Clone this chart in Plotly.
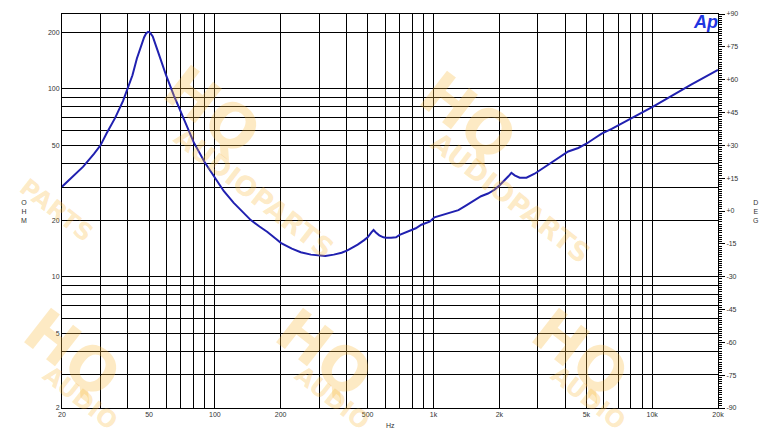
import plotly.graph_objects as go
import math

# ---- data ----
freq_hz = [20, 22, 25, 28, 30, 32, 35, 38, 40, 42, 44, 46, 47.5, 48.5, 49.5, 50.5, 52, 54.5, 57, 60,
           65, 70, 75, 80, 90, 100, 110, 122, 135, 146, 160, 174, 190, 201, 225, 247, 275, 300, 320,
           350, 380, 404, 450, 480, 500, 520, 532, 545, 565, 590, 607, 640, 674, 700, 736, 780, 830,
           880, 908, 960, 1010, 1100, 1205, 1300, 1400, 1541, 1650, 1775, 1900, 2000, 2100, 2200,
           2271, 2350, 2478, 2661, 2900, 3343, 3700, 4131, 4592, 5000, 5475, 5875, 6530, 7500,
           8500, 10140, 15000, 20000]
impedance_ohm = [30.1, 33.5, 38.5, 45, 50, 58, 70, 86, 100, 118, 145, 170, 188, 197, 201, 199, 190, 162,
                 138, 117, 92, 74.5, 61, 52, 40.5, 33.8, 28.5, 24.7, 21.8, 20.0, 18.5, 17.3, 15.9, 15.1,
                 14.1, 13.5, 13.1, 13.0, 12.9, 13.1, 13.4, 13.8, 14.8, 15.6, 16.2, 17.2, 17.7, 17.2, 16.6,
                 16.2, 16.1, 16.1, 16.2, 16.7, 17.1, 17.6, 18.1, 18.9, 19.2, 19.6, 20.7, 21.3, 21.9, 22.6,
                 23.8, 25.5, 26.8, 27.7, 29.0, 30.6, 32.3, 34.2, 35.7, 34.6, 33.6, 33.6, 35.3, 39.5, 42.8,
                 46.4, 48.4, 51.0, 54.7, 57.7, 61.1, 66.5, 72, 80.5, 105, 126]

x_grid = [20, 30, 40, 50, 60, 70, 80, 90, 100, 200, 300, 400, 500, 600, 700, 800, 900, 1000,
          2000, 3000, 4000, 5000, 6000, 7000, 8000, 9000, 10000, 20000]
x_labels = {20: "20", 50: "50", 100: "100", 200: "200", 500: "500", 1000: "1k", 2000: "2k",
            5000: "5k", 10000: "10k", 20000: "20k"}
y_grid = [2, 3, 4, 5, 6, 7, 8, 9, 10, 20, 30, 40, 50, 60, 70, 80, 90, 100, 200]
y_labels = {2: "2", 5: "5", 10: "10", 20: "20", 50: "50", 100: "100", 200: "200"}
deg_ticks = [-90, -75, -60, -45, -30, -15, 0, 15, 30, 45, 60, 75, 90]
deg_labels = ["-90", "-75", "-60", "-45", "-30", "-15", "+0", "+15", "+30", "+45", "+60", "+75", "+90"]

# ---- layout geometry (page body adds an 8px offset) ----
OFF = 8
W, H = 772, 432
ML, MR, MT, MB = 54, 62, 6, 32
PW, PH = W - ML - MR, H - MT - MB


def paper(px, py):
    # px, py: pixel position in the 780x440 window
    return (px - OFF - ML) / PW, (H - MB - (py - OFF)) / PH


fig = go.Figure()
fig.add_trace(go.Scatter(x=freq_hz, y=impedance_ohm, mode="lines",
                         line=dict(color="#2020b0", width=2), showlegend=False, hoverinfo="x+y"))
fig.add_trace(go.Scatter(x=[20], y=[None], yaxis="y2", mode="lines", showlegend=False,
                         hoverinfo="skip"))

font_small = dict(family="Liberation Sans, Arial, sans-serif", size=7, color="#333333")

fig.update_layout(
    width=W, height=H,
    margin=dict(l=ML, r=MR, t=MT, b=MB, autoexpand=False),
    paper_bgcolor="white", plot_bgcolor="rgba(0,0,0,0)",
    xaxis=dict(type="log", range=[math.log10(20), math.log10(20000)],
               tickmode="array", tickvals=x_grid,
               ticktext=[x_labels.get(v, "") for v in x_grid],
               showgrid=True, gridcolor="black", gridwidth=1,
               showline=True, mirror=True, linecolor="black", linewidth=1,
               ticks="", tickfont=font_small, zeroline=False, automargin=False),
    yaxis=dict(type="log", range=[math.log10(2), math.log10(250)],
               tickmode="array", tickvals=y_grid,
               ticktext=[y_labels.get(v, "") for v in y_grid],
               showgrid=True, gridcolor="black", gridwidth=1,
               showline=True, mirror=True, linecolor="black", linewidth=1,
               ticks="", tickfont=font_small, zeroline=False, automargin=False),
    yaxis2=dict(overlaying="y", side="right", range=[-90, 90],
                tickmode="array", tickvals=deg_ticks, ticktext=deg_labels,
                ticks="outside", ticklen=6, tickcolor="black", tickwidth=1,
                minor=dict(tickmode="linear", tick0=-90, dtick=1, ticks="outside",
                           ticklen=3, tickcolor="black", showgrid=False),
                showgrid=False, zeroline=False, showline=False,
                tickfont=font_small, automargin=False),
)

annotations = []


def note(px, py, text, font, angle=0):
    xp, yp = paper(px, py)
    annotations.append(dict(x=xp, y=yp, xref="paper", yref="paper", text=text,
                            showarrow=False, textangle=angle, font=font,
                            xanchor="center", yanchor="middle"))


# watermark (faint, rotated)
wm_color = "rgba(248,185,60,0.30)"
wm_font = "DejaVu Sans, sans-serif"
big = dict(family=wm_font, size=60, color=wm_color)
small = dict(family=wm_font, size=27, color=wm_color)
small2 = dict(family=wm_font, size=24, color=wm_color)
for cx, cy in [(212, 110), (468, 116)]:
    note(cx, cy, "<b>HQ</b>", big, 38)
    note(cx + 42, cy + 82, "<b>AUDIOPARTS</b>", small, 38)
note(56, 210, "<b>PARTS</b>", small2, 38)
for cx, cy in [(72, 353), (324, 353), (580, 353)]:
    note(cx, cy, "<b>HQ</b>", big, 38)
    note(cx + 8, cy + 45, "<b>AUDIO</b>", small2, 38)

# axis titles and logo
note(24, 211, "O<br>H<br>M", font_small)
note(755, 211, "D<br>E<br>G", font_small)
note(391, 425, "Hz", font_small)
note(705, 22, "<b><i>Ap</i></b>",
     dict(family="Liberation Sans, Arial, sans-serif", size=18, color="#1f35e0"))

fig.update_layout(annotations=annotations)
fig.write_html("out.html")
